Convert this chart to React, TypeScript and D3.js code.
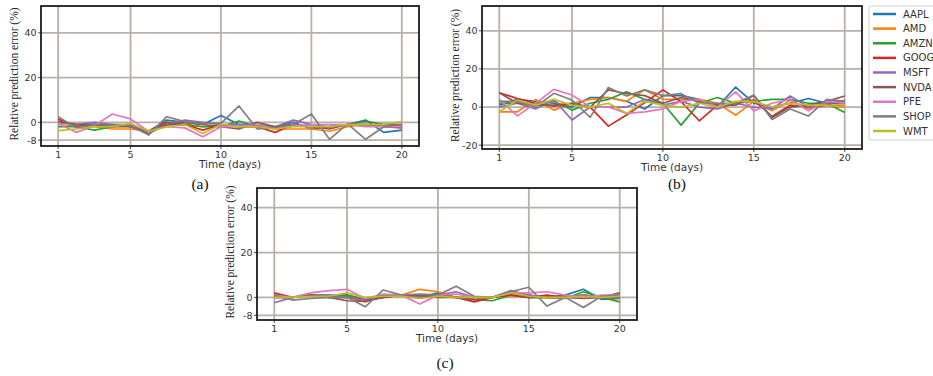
import * as d3 from "d3";

// tickers, in legend order
const tickers = ["AAPL", "AMD", "AMZN", "GOOG", "MSFT", "NVDA", "PFE", "SHOP", "WMT"];
const colors = ["#1f77b4", "#ff7f0e", "#2ca02c", "#d62728", "#9467bd", "#8c564b", "#e377c2", "#7f7f7f", "#bcbd22"];
const days = [1, 2, 3, 4, 5, 6, 7, 8, 9, 10, 11, 12, 13, 14, 15, 16, 17, 18, 19, 20];
const xTicks = [1, 5, 10, 15, 20];

// (a) relative prediction error (%), one row per ticker
const errorsA = [
  [0, -1, -1, -2, -1, -4, 1, 0, -1, 3, -1, -1, -2, 0, -3, -2, -1, 1, -4.5, -3.5],
  [-1, -2, -2, -3, -3, -4, -1, -1, -2, -1, -2, -2, -3, -3, -3, -4, -2, -1, -2, -2],
  [-2, -2, -3.5, -2, -1, -4, -1, -1, -2, -2, 0.5, -2, -2, -1, -2, -2, -1, 0.5, -1, -1],
  [1.5, -2, -1, -1, -2, -4, 0, -1, -3.5, -1, -2, -2, -4.5, -1, -2, -2, -1, -1, -2, -2.5],
  [0, -1, 0, -1, -1, -4, -1, 1, 0, -1, -1, -1, -2, 1, -1, -2, -1, -1, -2, -2],
  [0.5, -1, -1, -2, -2, -5, -1, 0, -1, -2, -3, 0, -2, -1, -2, -3, -1, -1, -1, -1],
  [-0.5, -4.5, -1.5, 3.7, 1.5, -4, -2, -2.5, -6.5, -2, -2, -1, -3, -1.5, -1, -1, -1, -2, -2, -2],
  [2.5, -2.5, -1, -1, -1.5, -5.7, 2.5, 0.3, -0.5, -0.5, 7.3, -3, -2.5, -1, 3.7, -7.6, -0.7, -7.6, -2, -1],
  [-3.7, -3, -2, -2, -0.5, -4, -2, -1, -5, -1, -2, -2, -3, -2, -2, -2, -1, -1, -1, 0.3],
];

// (b)
const errorsB = [
  [1, 4, 3, 2, 0, 5, 5, 3, -1, 6, 6, 4, 0, 10.5, 2, 0, 2, 4.5, 2, 2],
  [-2.5, -2.5, 4, -1.6, 2, 4, 5, 3, 9, 4, 4, 4, 2, -4.2, 3, -2, 3.5, -1, 1, 1],
  [2, 2, 2, 3, -1.6, 2, 4, 8, 4, 2, -9.5, 2, 5, 2, 3, 4, 4, 2, 2, -2.8],
  [7.5, 4.5, 2, 0.5, 1.6, 0, -10, -4.2, 2.3, 9, 2.8, -7.2, 1, 2, 3.7, -5, 1, 0, 1, 0],
  [0, 2, -1, 4, -6.8, 0, 0, 0, 4, 1, 3, 0, -1, 2, 0, -1, 5.8, 0, 2, 3.5],
  [7.5, 2, 1, 1, 2, 0, 9, 7, 6, 2, 5, 3, 1, 1, 6, -5.5, 0, 1, 3, 5.8],
  [4, -4.6, 2, 9.3, 6.3, 0, 0, -3.3, -2.5, -1, 3, 4, 0, 8, -2, 2, 4, -2, 3, 2],
  [3, 3, 0, 7.2, 3.7, -5.4, 10.3, 5.8, 9, 6, 7, 2, 2, 2, 6.3, -6.5, -1, -4.7, 4, 3],
  [-2.5, 3.7, 1, 4, 1, 0, 2, -3.3, 3, 1, 0, 2, 0, 3, 3, 0, 2, 1, 1, 0],
];

// (c)
const errorsC = [
  [1, 0, 1, 1, 1, -1, 1, 1, 0, 2, 0, 0, 0, 2, 1, 0, 1, 3.6, -0.9, -0.5],
  [1, 0, 1, 0, 0, -2, 1, 1, 3.6, 2.5, 0, 0, 0, 1, 0, 0, 0, 1, 0, 0],
  [0, 0, 1, 0, 1, -1, 1, 1, 0, 1, 0, -1, -1.5, 1, 0, 0, -0.5, 2.5, 0, -2],
  [2, 0, 1, 0, 0, -1, 0, 1, 0, 1, 0, -2, 0, 1, 0, 1, 0, 1, 0, 0],
  [-2.4, 0, 1, 1, 0, -1, 0, 1, 0, 1, 2.5, 0, 0, 3, 1, 0, 0, 1, 0, 0],
  [0, 0, 1, 0, -1.5, -1.8, 0, 1, 1, 0, 0, -1, 0, 2, 0, 0, 0, -0.5, 0, 2],
  [1, 0, 2, 3, 3.6, -0.5, 1.5, 1, -3, 1, 1.5, 0, 0, 2, 2, 2.5, 1, 0, 1, 1],
  [1, -1.2, -0.5, 0, 0, -4.2, 3.3, 1, 1.5, 1, 5, 0.5, 0, 2.5, 4.5, -3.9, 0, -4.5, 0.5, 1],
  [0, 0, 0.5, 0.5, 2, 0, 0.5, 0.5, -0.5, 0.5, 0, 0, 0, 2, 0.5, 0, 0, 0.5, 0, 0.5],
];

const yTicksA = [-8, 0, 20, 40];
const yTicksB = [-20, 0, 20, 40];
const yTicksC = [-8, 0, 20, 40];

const GRID = "#b9b0aa";
const FRAME = "#1c1c1c";
const SANS = "DejaVu Sans, sans-serif";
const SERIF = "Liberation Serif, Times New Roman, serif";

interface PanelProps {
  left: number;
  top: number;
  right: number;
  bottom: number;
  yDomain: [number, number];
  yTicks: number[];
  errors: number[][];
  caption: string;
  captionX: number;
  captionY: number;
}

function Panel({ left, top, right, bottom, yDomain, yTicks, errors, caption, captionX, captionY }: PanelProps) {
  const x = d3.scaleLinear().domain([0.05, 20.95]).range([left, right]);
  const y = d3.scaleLinear().domain(yDomain).range([bottom, top]);
  const line = d3
    .line<number>()
    .x((_, i) => x(days[i]))
    .y((d) => y(d));

  return (
    <g>
      {/* grid */}
      {xTicks.map((t) => (
        <line key={"gx" + t} x1={x(t)} x2={x(t)} y1={top} y2={bottom} stroke={GRID} strokeWidth={1.8} />
      ))}
      {yTicks.map((t) => (
        <line key={"gy" + t} x1={left} x2={right} y1={y(t)} y2={y(t)} stroke={GRID} strokeWidth={1.8} />
      ))}

      {/* series */}
      {errors.map((vals, i) => (
        <path key={tickers[i]} d={line(vals) ?? ""} fill="none" stroke={colors[i]} strokeWidth={1.7} strokeLinejoin="round" />
      ))}

      <rect x={left} y={top} width={right - left} height={bottom - top} fill="none" stroke={FRAME} strokeWidth={1.8} />

      {/* y axis */}
      {yTicks.map((t) => (
        <g key={"ty" + t}>
          <line x1={left - 3} x2={left} y1={y(t)} y2={y(t)} stroke={FRAME} strokeWidth={0.8} />
          <text x={left - 4.5} y={y(t)} dy="0.35em" textAnchor="end" fontFamily={SANS} fontSize={9.5} fill="#333">
            {t}
          </text>
        </g>
      ))}
      <text
        transform={`translate(${left - 27},${(top + bottom) / 2 - 2}) rotate(-90)`}
        dy="0.35em"
        textAnchor="middle"
        fontFamily={SERIF}
        fontSize={11.5}
        fill="#222"
      >
        Relative prediction error (%)
      </text>

      {/* x axis */}
      {xTicks.map((t) => (
        <g key={"tx" + t}>
          <line x1={x(t)} x2={x(t)} y1={bottom} y2={bottom + 3} stroke={FRAME} strokeWidth={0.8} />
          <text x={x(t)} y={bottom + 11.5} textAnchor="middle" fontFamily={SANS} fontSize={9.5} fill="#333">
            {t}
          </text>
        </g>
      ))}
      <text x={(left + right) / 2} y={bottom + 22} textAnchor="middle" fontFamily={SANS} fontSize={10.5} fill="#333">
        Time (days)
      </text>

      <text x={captionX} y={captionY} textAnchor="middle" fontFamily={SERIF} fontSize={15.5} fill="#111">
        {caption}
      </text>
    </g>
  );
}

function Legend({ x0, y0 }: { x0: number; y0: number }) {
  const row = d3.scaleLinear().domain([0, 8]).range([y0 + 8, y0 + 125]);
  return (
    <g>
      <rect x={x0} y={y0} width={80} height={134} rx={2} fill="#fff" stroke="#d0d0d0" strokeWidth={1} />
      {tickers.map((t, i) => (
        <g key={t}>
          <line x1={x0 + 4} x2={x0 + 27} y1={row(i)} y2={row(i)} stroke={colors[i]} strokeWidth={2.5} />
          <text x={x0 + 34} y={row(i)} dy="0.36em" fontFamily={SANS} fontSize={10} fill="#333">
            {t}
          </text>
        </g>
      ))}
    </g>
  );
}

export default function App() {
  return (
    <svg width={933} height={376} style={{ position: "absolute", left: 0, top: 0, background: "#fff" }}>
      <Panel left={41} top={6} right={419} bottom={146} yDomain={[-10.6, 52]} yTicks={yTicksA} errors={errorsA} caption="(a)" captionX={200} captionY={189} />
      <Panel left={482} top={6} right={862} bottom={149} yDomain={[-22, 53]} yTicks={yTicksB} errors={errorsB} caption="(b)" captionX={677} captionY={189} />
      <Panel left={257} top={188} right={637} bottom={320} yDomain={[-10.1, 48.8]} yTicks={yTicksC} errors={errorsC} caption="(c)" captionX={445} captionY={367.5} />
      <Legend x0={869} y0={6} />
    </svg>
  );
}
